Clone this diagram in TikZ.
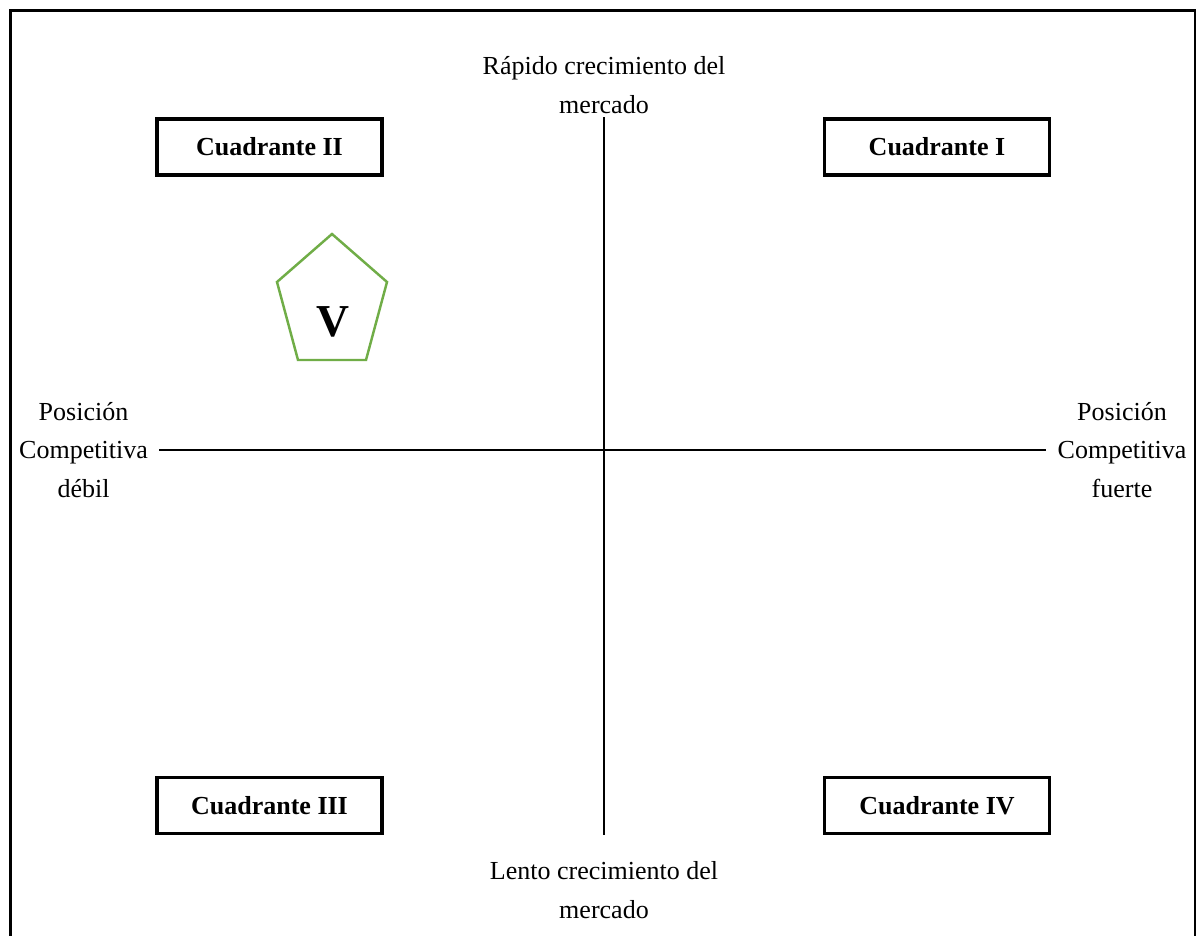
\documentclass[tikz,border=0pt]{standalone}
\usepackage{fontspec}
\setmainfont{Liberation Serif}
\usetikzlibrary{positioning}
\definecolor{quadgreen}{RGB}{112,173,71}

\begin{document}
\begin{tikzpicture}[x=0.02cm, y=-0.02cm, font=\fontsize{14.8}{21.9}\selectfont,
    quadbox/.style={draw, line width=2pt, minimum width=4.5cm, minimum height=1.12cm,
      inner sep=0pt, font=\fontsize{14.8}{21.9}\selectfont\bfseries},
    axislabel/.style={align=center, inner sep=0.22cm},
    axis/.style={line width=1.3pt}]
  \clip (0,0) rectangle (1197,936);
  \fill[white] (0,0) rectangle (1197,936);
  \draw[line width=1.5pt] (10.5,10.5) rectangle (1195,960);

  % quadrants
  \node[quadbox] (c2) at (269.5,147) {Cuadrante II};
  \node[quadbox] (c1) at (937,147) {Cuadrante I};
  \node[quadbox] (c3) at (269.5,805.5) {Cuadrante III};
  \node[quadbox] (c4) at (937,805.5) {Cuadrante IV};

  % axis labels
  \node[axislabel] (fast) at (604,85) {Rápido crecimiento del\\mercado};
  \node[axislabel] (slow) at (604,890) {Lento crecimiento del\\mercado};
  \node[axislabel] (weak) at (83.5,450) {Posición\\Competitiva\\débil};
  \node[axislabel] (strong) at (1122,450) {Posición\\Competitiva\\fuerte};

  \draw[axis] (fast |- c2.north) -- (slow |- c3.south);
  \draw[axis] (weak.east) -- (strong.west);

  % current position
  \draw[quadgreen, line width=1.4pt] (332,234) -- (387,282) -- (366,360) -- (298,360) -- (277,282) -- cycle;
  \node[font=\fontsize{26}{30}\selectfont\bfseries] (v) at (333,322) {V};
\end{tikzpicture}
\end{document}
